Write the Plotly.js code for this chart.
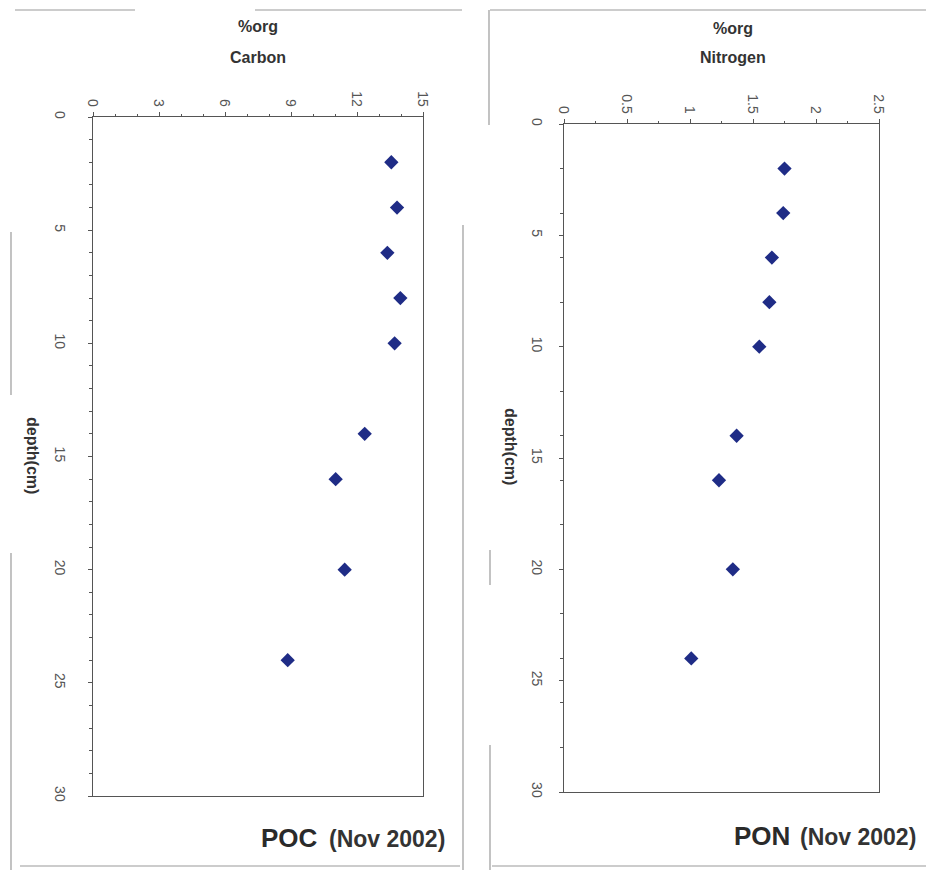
<!DOCTYPE html>
<html>
<head>
<meta charset="utf-8">
<script src="https://cdn.plot.ly/plotly-3.0.1.min.js"></script>
<style>html,body{margin:0;padding:0;background:#fff;}#chart{width:926px;height:870px;}</style>
</head>
<body>
<div id="chart"></div>
<script>
// Data
const depthCm = [2, 4, 6, 8, 10, 14, 16, 20, 24];
const pocPercent = [13.56, 13.82, 13.38, 13.97, 13.71, 12.35, 11.03, 11.44, 8.85];
const ponPercent = [1.75, 1.74, 1.65, 1.63, 1.55, 1.37, 1.23, 1.34, 1.01];
const carbonTicks = [0, 3, 6, 9, 12, 15];
const nitrogenTicks = [0, 0.5, 1, 1.5, 2, 2.5];
const nitrogenTickText = ['0', '0.5', '1', '1.5', '2', '2.5'];
const depthTicks = [0, 5, 10, 15, 20, 25, 30];

const W = 926, H = 870;
const px = x => x / W;
const py = y => 1 - y / H;

const markerStyle = {symbol: 'diamond', size: 11, color: '#1f2c86'};
const tickFont = {family: 'Liberation Sans, Arial, sans-serif', size: 14, color: '#555'};
const lineCol = '#555';

const traces = [
  {x: pocPercent, y: depthCm, type: 'scatter', mode: 'markers', marker: markerStyle, xaxis: 'x', yaxis: 'y', hoverinfo: 'x+y'},
  {x: ponPercent, y: depthCm, type: 'scatter', mode: 'markers', marker: markerStyle, xaxis: 'x2', yaxis: 'y2', hoverinfo: 'x+y'}
];

function xAxis(domain, range, tickvals, ticktext, anchor, minorDtick) {
  return {
    domain: domain, range: range, side: 'top', anchor: anchor,
    tickmode: 'array', tickvals: tickvals, ticktext: ticktext,
    tickangle: 90, tickfont: tickFont,
    ticks: 'outside', ticklen: 4, tickcolor: lineCol,
    minor: {dtick: minorDtick, ticks: 'outside', ticklen: 2, tickcolor: lineCol},
    showline: true, linecolor: lineCol, linewidth: 1.3, mirror: true,
    showgrid: false, zeroline: false, fixedrange: true
  };
}
function yAxis(domain, anchor, minorDtick, standoff) {
  return {
    domain: domain, range: [30, 0], anchor: anchor,
    tickmode: 'array', tickvals: depthTicks,
    tickangle: 90, tickfont: tickFont,
    ticks: 'outside', ticklen: 4, tickcolor: lineCol,
    ticklabelstandoff: standoff,
    minor: {dtick: minorDtick, ticks: 'outside', ticklen: 3, tickcolor: lineCol},
    showline: true, linecolor: lineCol, linewidth: 1.3, mirror: true,
    showgrid: false, zeroline: false, fixedrange: true
  };
}

const titleFont = {family: 'Liberation Sans, Arial, sans-serif', size: 16, color: '#333'};
const ann = (text, x, y, extra) => Object.assign({
  text: text, xref: 'paper', yref: 'paper', x: px(x), y: py(y),
  showarrow: false, font: titleFont, xanchor: 'center', yanchor: 'middle'
}, extra || {});

const bigFont = {family: 'Liberation Sans, Arial, sans-serif', size: 26, color: '#2a2a2a'};
const subFont = {family: 'Liberation Sans, Arial, sans-serif', size: 23, color: '#333'};

const annotations = [
  ann('<b>%org</b>', 258, 27),
  ann('<b>Carbon</b>', 258, 57),
  ann('<b>%org</b>', 733, 28),
  ann('<b>Nitrogen</b>', 733, 57),
  ann('<b>depth(cm)</b>', 33, 455, {textangle: 90}),
  ann('<b>depth(cm)</b>', 510, 446, {textangle: 90}),
  ann('<b>POC</b>', 320, 838, {xanchor: 'right', font: bigFont}),
  ann('<b>(Nov 2002)</b>', 447, 839, {xanchor: 'right', font: subFont}),
  ann('<b>PON</b>', 792, 836, {xanchor: 'right', font: bigFont}),
  ann('<b>(Nov 2002)</b>', 918, 837, {xanchor: 'right', font: subFont})
];

// faint frame lines of the scanned panels
const frameCol = '#9a9a9a';
const seg = (x0, y0, x1, y1) => ({type: 'line', xref: 'paper', yref: 'paper',
  x0: px(x0), y0: py(y0), x1: px(x1), y1: py(y1), line: {color: frameCol, width: 1.2}});
const shapes = [
  seg(15, 10, 135, 10), seg(255, 10, 462, 10),
  seg(490, 10, 926, 10),
  seg(489, 10, 489, 125),
  seg(463, 225, 463, 870),
  seg(490, 745, 490, 870), seg(490, 550, 490, 585),
  seg(11, 232, 11, 395), seg(11, 553, 11, 870),
  seg(20, 866, 460, 866), seg(492, 866, 926, 866)
];

const layout = {
  width: W, height: H,
  margin: {l: 0, r: 0, t: 0, b: 0},
  paper_bgcolor: '#fff', plot_bgcolor: '#fff',
  showlegend: false,
  xaxis: xAxis([px(93), px(423)], [0, 15], carbonTicks, carbonTicks.map(String), 'y', 1),
  yaxis: yAxis([py(796), py(117)], 'x', 1, 16),
  xaxis2: xAxis([px(564), px(879)], [0, 2.5], nitrogenTicks, nitrogenTickText, 'y2', 0.25),
  yaxis2: yAxis([py(792), py(124)], 'x2', 2, 10),
  annotations: annotations,
  shapes: shapes
};

Plotly.newPlot('chart', traces, layout, {displayModeBar: false, staticPlot: true});
</script>
</body>
</html>
